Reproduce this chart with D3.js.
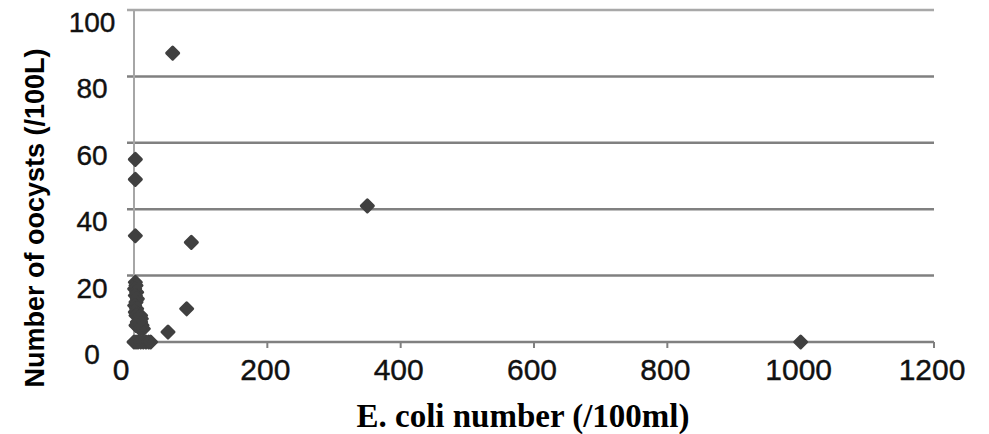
<!DOCTYPE html>
<html>
<head>
<meta charset="utf-8">
<script src="https://cdn.jsdelivr.net/npm/d3@7"></script>
<style>
  body { margin: 0; background: #fff; }
  svg { display: block; }
</style>
</head>
<body>
<div id="chart"></div>
<script>
const width = 989, height = 434;

// E. coli number (/100ml) and oocysts (/100L)
const ecoli = [58, 350, 1000, 2, 2, 2, 86, 79, 51,
  2, 3, 1, 4, 2, 5, 3, 1, 4, 2, 6, 3, 8, 5, 10, 12, 7, 3, 9, 14, 10, 11,
  0, 3, 6, 10, 14, 18, 22, 25];
const oocysts = [87, 41, 0, 55, 49, 32, 30, 10, 3,
  18, 17, 16, 15, 14, 13, 12, 11, 10, 9, 8, 8, 7, 6, 6, 5, 5, 5, 4, 4, 8, 7,
  0, 0, 0, 0, 0, 0, 0, 0];

const xTicks = [0, 200, 400, 600, 800, 1000, 1200];
const yTicks = [0, 20, 40, 60, 80, 100];

const points = ecoli.map((e, i) => ({ x: e, y: oocysts[i] }));

const x = d3.scaleLinear().domain([0, 1200]).range([134, 934]);
const y = d3.scaleLinear().domain([0, 100]).range([342, 10]);

const svg = d3.select("#chart")
  .append("svg")
  .attr("width", width)
  .attr("height", height);

// horizontal gridlines (with short ticks left of the axis)
svg.append("g")
  .selectAll("line")
  .data(yTicks)
  .enter()
  .append("line")
  .attr("x1", 127)
  .attr("x2", x(1200))
  .attr("y1", d => y(d))
  .attr("y2", d => y(d))
  .style("stroke", d => d === 100 ? "#a8a8a8" : "#808080")
  .style("stroke-width", 2.5);

// y axis line
svg.append("line")
  .attr("x1", x(0)).attr("x2", x(0))
  .attr("y1", y(100)).attr("y2", y(0))
  .style("stroke", "#a6a6a6")
  .style("stroke-width", 2);

// x axis ticks
svg.append("g")
  .selectAll("line")
  .data(xTicks)
  .enter()
  .append("line")
  .attr("x1", d => x(d)).attr("x2", d => x(d))
  .attr("y1", y(0)).attr("y2", y(0) + 6)
  .style("stroke", "#808080")
  .style("stroke-width", 2);

// y tick labels
svg.append("g")
  .selectAll("text")
  .data(yTicks)
  .enter()
  .append("text")
  .attr("x", 92)
  .attr("y", d => y(d) + 22)
  .attr("text-anchor", "middle")
  .style("font-family", "Liberation Sans, Arial, sans-serif")
  .style("font-size", "28px")
  .style("fill", "#111")
  .style("stroke", "#111")
  .style("stroke-width", 0.4)
  .text(d => d);

// x tick labels
svg.append("g")
  .selectAll("text")
  .data(xTicks)
  .enter()
  .append("text")
  .attr("x", d => d === 0 ? x(d) - 13 : x(d) - 2)
  .attr("y", 380)
  .attr("text-anchor", "middle")
  .style("font-family", "Liberation Sans, Arial, sans-serif")
  .style("font-size", "30px")
  .style("fill", "#111")
  .style("stroke", "#111")
  .style("stroke-width", 0.4)
  .text(d => d);

// markers
svg.append("g")
  .selectAll("path")
  .data(points)
  .enter()
  .append("path")
  .attr("d", d3.symbol().type(d3.symbolSquare).size(72))
  .attr("transform", d => `translate(${x(d.x)},${y(d.y)}) rotate(45)`)
  .style("fill", "#404040")
  .style("stroke", "#404040")
  .style("stroke-width", 3)
  .style("stroke-linejoin", "round");

// axis titles
svg.append("text")
  .attr("transform", "translate(44,218) rotate(-90)")
  .attr("text-anchor", "middle")
  .style("font-family", "Liberation Sans, Arial, sans-serif")
  .style("font-weight", "bold")
  .style("font-size", "27px")
  .style("fill", "#000")
  .text("Number of oocysts (/100L)");

svg.append("text")
  .attr("x", 523)
  .attr("y", 427)
  .attr("text-anchor", "middle")
  .style("font-family", "Liberation Serif, Times New Roman, serif")
  .style("font-weight", "bold")
  .style("font-size", "33px")
  .style("fill", "#000")
  .text("E. coli number (/100ml)");
</script>
</body>
</html>
